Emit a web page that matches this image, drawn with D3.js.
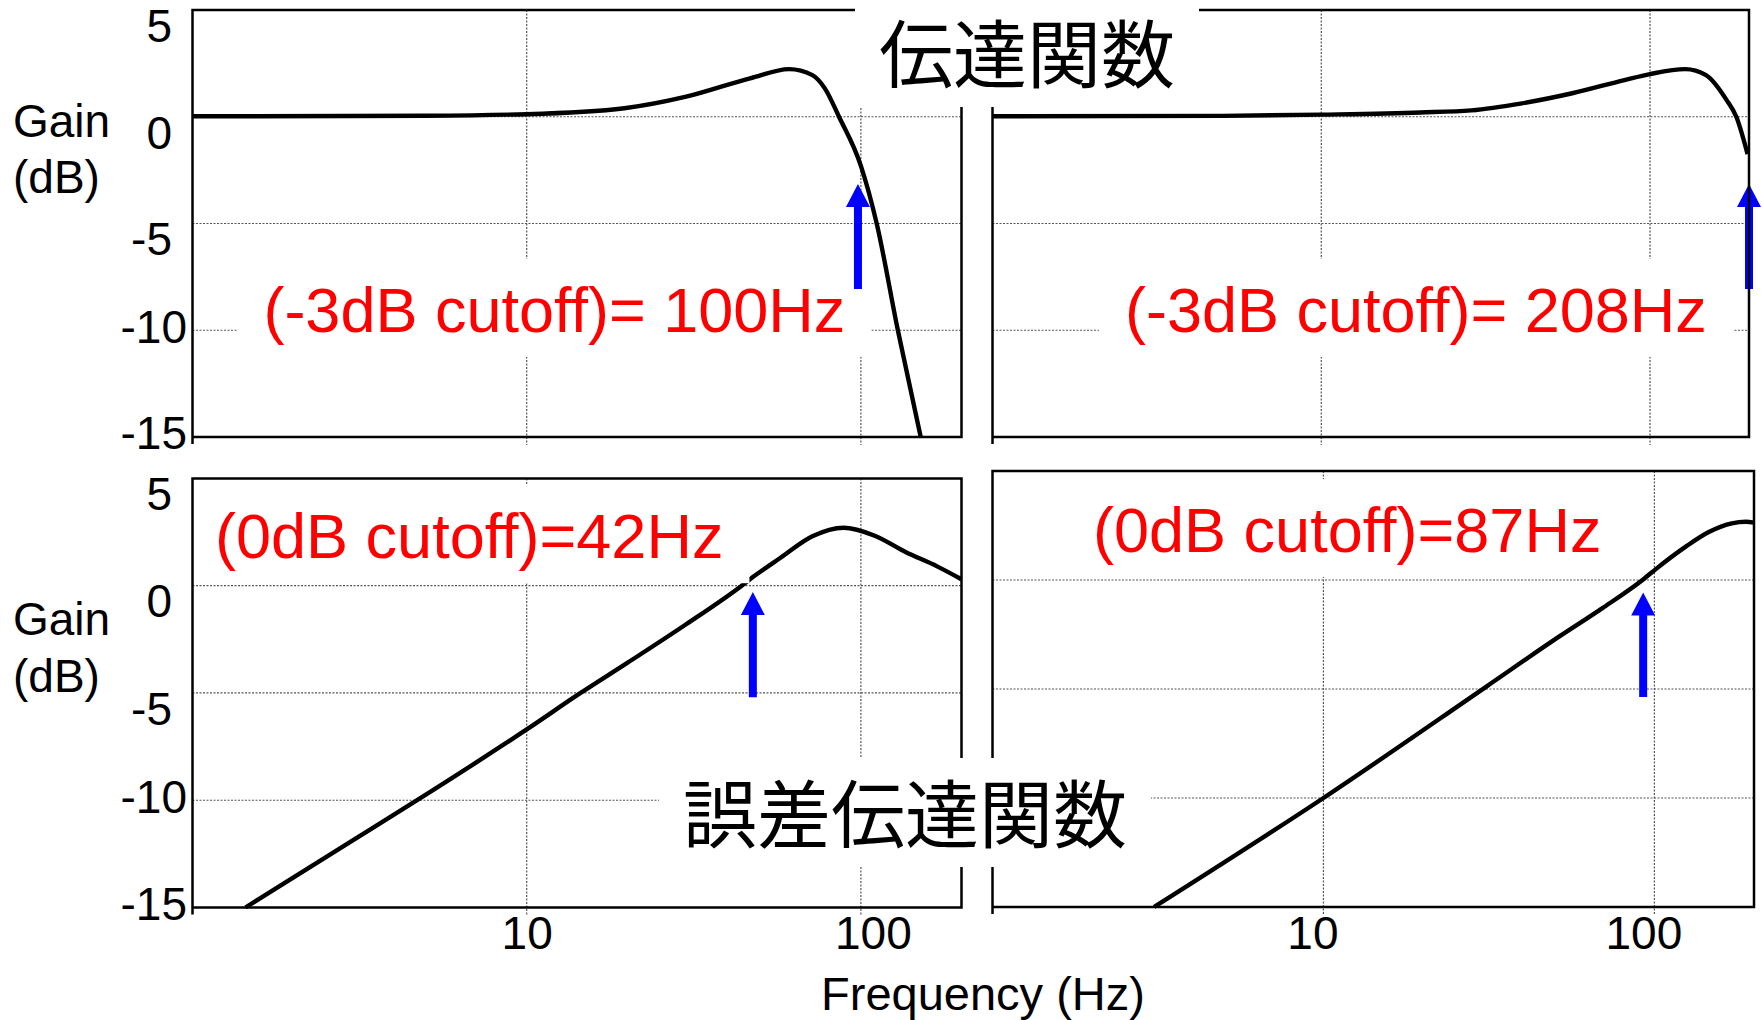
<!DOCTYPE html>
<html>
<head>
<meta charset="utf-8">
<script src="https://cdn.jsdelivr.net/npm/d3@7"></script>
<style>
  body { margin: 0; background: #fff; }
  text { font-family: "Liberation Sans", Arial, sans-serif; }
  .jp { font-family: "Noto Sans CJK JP", sans-serif; }
</style>
</head>
<body>
<svg id="chart"></svg>
<script>
var svgWidth = 1762;
var svgHeight = 1020;

// shared axes
var freqDomain = [1, 200];
var freqTicks = [10, 100];
var gainDomain = [-15, 5];
var gainTicks = [5, 0, -5, -10, -15];
var gainGrid = [0, -5, -10];

// transfer function, 100 Hz design (top left)
var tfLowFreq = [1, 5, 10, 19.6, 30, 46.6, 61, 71.6, 78, 86, 100, 111.5, 129, 151];
var tfLowGain = [0.02, 0.05, 0.12, 0.4, 0.94, 1.8, 2.23, 1.95, 1.33, 0, -2.3, -5, -10, -15];

// transfer function, 208 Hz design (top right)
var tfHighFreq = [1, 5, 10, 20, 28.6, 40.8, 58, 83.6, 100, 128, 148, 171, 183, 198];
var tfHighGain = [0.02, 0.04, 0.1, 0.2, 0.3, 0.63, 1.1, 1.72, 2.0, 2.23, 1.95, 0.78, 0, -1.75];

// error transfer function, 42 Hz (bottom left)
var errLowFreq = [1.44, 3, 4.7, 10, 14.5, 20, 30, 44, 47.5, 57.5, 71.6, 88.7, 110, 136, 169, 200];
var errLowGain = [-15, -11.9, -10, -6.7, -5, -3.6, -1.8, 0, 0.4, 1.3, 2.3, 2.7, 2.33, 1.57, 0.9, 0.3];

// error transfer function, 87 Hz (bottom right)
var errHighFreq = [3.08, 10, 31, 51.5, 69.5, 92.9, 101, 124.4, 146, 171.4, 189, 200];
var errHighGain = [-15, -10, -4.9, -2.6, -1.3, 0.05, 0.5, 1.53, 2.2, 2.6, 2.67, 2.63];

// annotations, one per panel
var noteText = ["(-3dB cutoff)= 100Hz", "(-3dB cutoff)= 208Hz", "(0dB cutoff)=42Hz", "(0dB cutoff)=87Hz"];
var noteFreq = [12.1, 19.4, 6.73, 11.8];
var noteGain = [-10.08, -10.08, 1.28, 1.28];
var arrowFreq = [98, 200, 47.5, 92.5];
var arrowTip = [-3.15, -3.15, -0.3, -0.57];
var arrowTail = [-8.07, -8.07, -5.2, -5.37];

var panels = [
    { x0: 192.5, x1: 961.5, y0: 10, y1: 437, freq: tfLowFreq, gain: tfLowGain, yLabels: true, xLabels: false },
    { x0: 992.5, x1: 1749, y0: 10, y1: 437, freq: tfHighFreq, gain: tfHighGain, yLabels: false, xLabels: false },
    { x0: 192.5, x1: 961.5, y0: 478.4, y1: 907.5, freq: errLowFreq, gain: errLowGain, yLabels: true, xLabels: true, tickDx: [0, 12] },
    { x0: 992.5, x1: 1754, y0: 471, y1: 907, freq: errHighFreq, gain: errHighGain, yLabels: false, xLabels: true, tickDx: [-11, -11] }
];

var svg = d3.select("#chart")
    .attr("width", svgWidth)
    .attr("height", svgHeight);

var gridLayer = svg.append("g");
var curveLayer = svg.append("g");
var boxLayer = svg.append("g");
var noteLayer = svg.append("g");
var arrowLayer = svg.append("g");
var frameLayer = svg.append("g");
var titleLayer = svg.append("g");

panels.forEach(function(p, i) {
    var x = d3.scaleLog().domain(freqDomain).range([p.x0, p.x1]);
    var y = d3.scaleLinear().domain(gainDomain).range([p.y1, p.y0]);

    // dotted grid, vertical ones poke a little below the frame
    gridLayer.selectAll("line.v" + i)
        .data(freqTicks)
        .enter().append("line")
        .attr("x1", function(d) { return x(d); })
        .attr("x2", function(d) { return x(d); })
        .attr("y1", p.y0)
        .attr("y2", p.y1 + 8)
        .attr("stroke", "#555")
        .attr("stroke-width", 1.2)
        .attr("stroke-dasharray", "2,1.5");

    gridLayer.selectAll("line.h" + i)
        .data(gainGrid)
        .enter().append("line")
        .attr("x1", p.x0)
        .attr("x2", p.x1)
        .attr("y1", function(d) { return y(d); })
        .attr("y2", function(d) { return y(d); })
        .attr("stroke", "#555")
        .attr("stroke-width", 1.2)
        .attr("stroke-dasharray", "2,1.5");

    var line = d3.line()
        .x(function(d) { return x(d[0]); })
        .y(function(d) { return y(d[1]); })
        .curve(d3.curveMonotoneX);

    curveLayer.append("path")
        .datum(d3.zip(p.freq, p.gain))
        .attr("d", line)
        .attr("fill", "none")
        .attr("stroke", "#000")
        .attr("stroke-width", 4.4)
        .attr("stroke-linejoin", "round");

    // red cutoff note on a white patch
    var note = noteLayer.append("text")
        .attr("x", x(noteFreq[i]))
        .attr("y", y(noteGain[i]))
        .attr("text-anchor", "middle")
        .style("font-size", "63px")
        .attr("fill", "#ff0000")
        .text(noteText[i]);
    var bb = note.node().getBBox();
    boxLayer.append("rect")
        .attr("x", bb.x - 26)
        .attr("y", bb.y - 16)
        .attr("width", bb.width + 52)
        .attr("height", bb.height + 28)
        .attr("fill", "#fff");

    // blue arrow pointing at the cutoff
    var ax = x(arrowFreq[i]), tipY = y(arrowTip[i]), tailY = y(arrowTail[i]);
    arrowLayer.append("path")
        .attr("d", "M" + (ax - 4) + "," + tailY +
            "L" + (ax - 4) + "," + (tipY + 23) +
            "L" + (ax - 12) + "," + (tipY + 23) +
            "L" + ax + "," + tipY +
            "L" + (ax + 12) + "," + (tipY + 23) +
            "L" + (ax + 4) + "," + (tipY + 23) +
            "L" + (ax + 4) + "," + tailY + "Z")
        .attr("fill", "#0000ff");

    // frame
    frameLayer.append("path")
        .attr("d", "M" + p.x0 + "," + (p.y1 + 7) + "V" + p.y0 + "H" + p.x1 + "V" + p.y1 + "H" + p.x0)
        .attr("stroke", "#000")
        .attr("stroke-width", 2.5)
        .attr("fill", "none");

    if (p.yLabels) {
        var yAxis = frameLayer.append("g")
            .attr("transform", "translate(" + p.x0 + ",0)")
            .call(d3.axisLeft(y).tickValues(gainTicks).tickSize(0)
                .tickFormat(function(d) { return String(d); }));
        yAxis.select(".domain").remove();
        yAxis.selectAll("text")
            .style("font-size", "46px")
            .style("font-family", "'Liberation Sans', Arial, sans-serif")
            .attr("fill", "#000")
            .attr("x", function(d) { return d > -10 ? -20.5 : -5.5; })
            .attr("dy", function(d) { return d > -10 ? "0.68em" : "0.26em"; });
    }

    if (p.xLabels) {
        var xAxis = frameLayer.append("g")
            .attr("transform", "translate(0," + p.y1 + ")")
            .call(d3.axisBottom(x).tickValues(freqTicks).tickSize(0).tickPadding(9)
                .tickFormat(function(d) { return String(d); }));
        xAxis.select(".domain").remove();
        xAxis.selectAll("text")
            .style("font-size", "46px")
            .style("font-family", "'Liberation Sans', Arial, sans-serif")
            .attr("fill", "#000")
            .attr("dx", function(d, k) { return p.tickDx[k]; });
    }
});

// y axis titles
[[137, "Gain"], [193, "(dB)"], [635, "Gain"], [692, "(dB)"]].forEach(function(t) {
    frameLayer.append("text")
        .attr("x", 13)
        .attr("y", t[0])
        .style("font-size", "46px")
        .text(t[1]);
});

frameLayer.append("text")
    .attr("x", 983)
    .attr("y", 1010)
    .attr("text-anchor", "middle")
    .style("font-size", "47px")
    .text("Frequency (Hz)");

// big Japanese titles sitting on white patches over the frames
function bigTitle(label, cx, baseline) {
    var t = titleLayer.append("text")
        .attr("class", "jp")
        .attr("x", cx)
        .attr("y", baseline)
        .attr("text-anchor", "middle")
        .style("font-size", "74px")
        .text(label);
    var b = t.node().getBBox();
    titleLayer.insert("rect", "text")
        .attr("x", b.x - 24)
        .attr("y", baseline - 84)
        .attr("width", b.width + 48)
        .attr("height", 109)
        .attr("fill", "#fff");
}

bigTitle("伝達関数", 1027, 82);
bigTitle("誤差伝達関数", 905, 842);
</script>
</body>
</html>
